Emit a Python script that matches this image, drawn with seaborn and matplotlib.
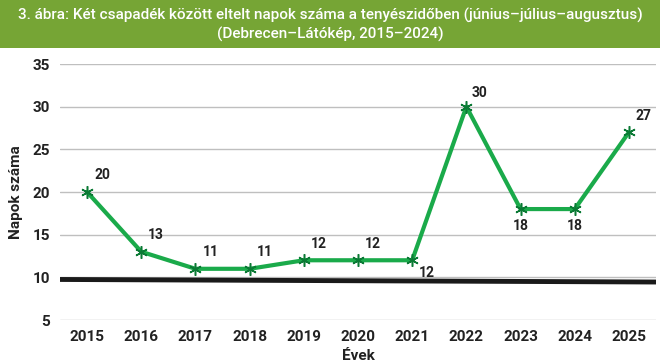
import matplotlib
matplotlib.use("Agg")
import matplotlib.pyplot as plt
import seaborn as sns
import pandas as pd

years = ["2015", "2016", "2017", "2018", "2019", "2020", "2021", "2022", "2023", "2024", "2025"]
days = [20, 13, 11, 11, 12, 12, 12, 30, 18, 18, 27]
trend_years = ["2015", "2025"]
trend_vals = [9.75, 9.45]
yticks = [5, 10, 15, 20, 25, 30, 35]
title_lines = ["3. ábra: Két csapadék között eltelt napok száma a tenyészidőben (június–július–augusztus)",
               "(Debrecen–Látókép, 2015–2024)"]
xlabel = "Évek"
ylabel = "Napok száma"

sns.set_theme(style="white")
plt.rcParams["font.family"] = ["Roboto", "DejaVu Sans"]

df = pd.DataFrame({"year": years, "days": days})
fig = plt.figure(figsize=(6.69, 3.63), dpi=100)
ax = fig.add_axes([60/669, 1-320/363, 596/669, 256/363])

green = "#1aaa4a"
ax.set_ylim(5, 35)
ax.set_yticks(yticks)
for t in yticks:
    ax.axhline(t, color="#bfbfbf", lw=1, zorder=0)

sns.lineplot(data=df, x="year", y="days", ax=ax, color=green, lw=3, sort=False, zorder=3)
ax.plot(df["year"], df["days"], ls="none", marker=(6, 2, 0), ms=9, mec="#0b7a35", mew=1.1, zorder=4)
# trend line spans the whole category band of the first and last year
tx = [years.index(trend_years[0]) - 0.5, years.index(trend_years[1]) + 0.5]
ax.plot(tx, trend_vals, color="#1a1a1a", lw=3.5, zorder=2, solid_capstyle="butt")

ax.set_xlim(-0.5, len(years) - 0.5)
lab_kw = dict(textcoords="offset points", va="center", fontsize=10, fontweight="bold",
              color="#222222", zorder=6, annotation_clip=False)
for i, v in enumerate(days):
    if years[i] == "2021":
        ax.annotate(str(v), (i, v), xytext=(5, -9), ha="left", **lab_kw)
    elif years[i] in ("2023", "2024"):
        ax.annotate(str(v), (i, v), xytext=(0, -12), ha="center", **lab_kw)
    elif years[i] == "2022":
        ax.annotate(str(v), (i, v), xytext=(4, 10), ha="left", **lab_kw)
    else:
        ax.annotate(str(v), (i, v), xytext=(5, 12), ha="left", **lab_kw)

for s in ax.spines.values():
    s.set_visible(False)
ax.tick_params(axis="both", length=0, labelsize=11, colors="#222222", pad=7)
for lab in ax.get_xticklabels() + ax.get_yticklabels():
    lab.set_fontweight("bold")
ax.set_xlabel(xlabel, fontsize=11, fontweight="bold", color="#222222", labelpad=4)
ax.set_ylabel(ylabel, fontsize=11, fontweight="bold", color="#222222", labelpad=7)

fig.patches.append(plt.Rectangle((0, 1-48/363), 660/669, 48/363, transform=fig.transFigure,
                                 facecolor="#76a535", edgecolor="none", zorder=0))
fig.text(330/669, 1-15/363, title_lines[0], ha="center", va="center", color="white",
         fontsize=11, fontweight="medium")
fig.text(330/669, 1-34/363, title_lines[1], ha="center", va="center", color="white",
         fontsize=11, fontweight="medium")

fig.savefig("out.png", dpi=100)
